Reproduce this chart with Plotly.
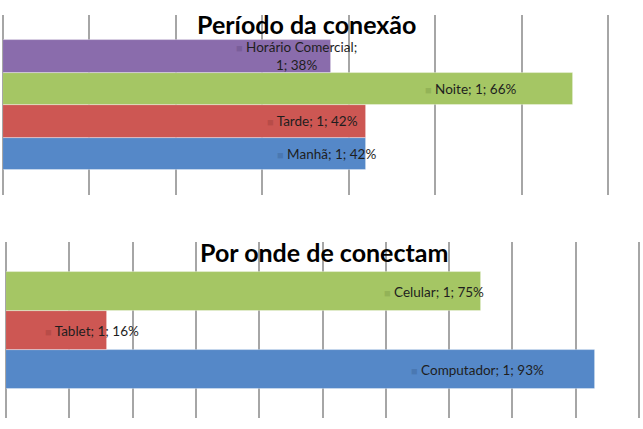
import plotly.graph_objects as go

# ---- data ----
periodo_cats = ["Manhã", "Tarde", "Noite", "Horário Comercial"]
periodo_vals = [0.42, 0.42, 0.66, 0.38]
disp_cats = ["Computador", "Tablet", "Celular"]
disp_vals = [0.93, 0.16, 0.75]
serie_label = "1"
titles = ["Período da conexão", "Por onde de conectam"]
periodo_max = 0.7
disp_max = 1.0

# ---- styles ----
bar_colors = ["#5588C8", "#CD5753", "#A5C664", "#8A6CAC"]
key_colors = ["#4A78B2", "#B84C48", "#93B357", "#7A5E9A"]
periodo_shift = [12, -6, -54, 28]
disp_shift = [-49, 34, 5]
FONT = "Lato"
W, H = 643, 429
EDGE = 1.004  # small extension so the last gridline is drawn

def px_to_paper_y(py):
    return 1 - py / H

fig = go.Figure()

fig.add_trace(go.Bar(
    x=periodo_vals, y=periodo_cats, orientation="h",
    marker=dict(color=bar_colors[:len(periodo_cats)],
                line=dict(color="rgba(255,255,255,0.45)", width=0.8)),
    xaxis="x", yaxis="y", hoverinfo="skip"))
fig.add_trace(go.Bar(
    x=disp_vals, y=disp_cats, orientation="h",
    marker=dict(color=bar_colors[:len(disp_cats)],
                line=dict(color="rgba(255,255,255,0.45)", width=0.8)),
    xaxis="x2", yaxis="y2", hoverinfo="skip"))

grid = dict(showgrid=True, gridcolor="#A6A6A6", gridwidth=1.6,
            zeroline=True, zerolinecolor="#A6A6A6", zerolinewidth=1.6,
            showticklabels=False, ticks="", dtick=0.1, tick0=0, fixedrange=True)

x1_left, x1_right = 3, 3 + 605 * EDGE
x2_left, x2_right = 6, 6 + 633 * EDGE

fig.update_layout(
    width=W, height=H,
    margin=dict(l=0, r=0, t=0, b=0),
    paper_bgcolor="white", plot_bgcolor="white",
    showlegend=False, bargap=0,
    xaxis=dict(domain=[x1_left / W, min(x1_right / W, 1)],
               range=[0, periodo_max * EDGE], anchor="y", **grid),
    yaxis=dict(domain=[px_to_paper_y(195), px_to_paper_y(15)], type="category",
               categoryorder="array", categoryarray=periodo_cats,
               range=[-0.5 - 25 / 32.5, len(periodo_cats) - 0.5 + 25 / 32.5],
               showticklabels=False, showgrid=False, zeroline=False, ticks="",
               anchor="x"),
    xaxis2=dict(domain=[x2_left / W, min(x2_right / W, 1)],
                range=[0, disp_max * EDGE], anchor="y2", **grid),
    yaxis2=dict(domain=[px_to_paper_y(418), px_to_paper_y(242)], type="category",
                categoryorder="array", categoryarray=disp_cats,
                range=[-0.5 - 29 / 39, len(disp_cats) - 0.5 + 30 / 39],
                showticklabels=False, showgrid=False, zeroline=False, ticks="",
                anchor="x2"),
)

def label_text(name, val, i):
    key = f'<span style="color:{key_colors[i]};font-size:11px">■</span> '
    if len(name) > 12:
        return f"{key}{name};<br>{serie_label}; {round(val * 100)}%"
    return f"{key}{name}; {serie_label}; {round(val * 100)}%"

anns = []
for i, (c, v) in enumerate(zip(periodo_cats, periodo_vals)):
    anns.append(dict(x=v, y=c, xref="x", yref="y", text=label_text(c, v, i),
                     showarrow=False, xanchor="right", yanchor="middle",
                     xshift=periodo_shift[i], align="center",
                     font=dict(family=FONT, size=13.5, color="#1E1E1E")))
for i, (c, v) in enumerate(zip(disp_cats, disp_vals)):
    anns.append(dict(x=v, y=c, xref="x2", yref="y2", text=label_text(c, v, i),
                     showarrow=False, xanchor="right", yanchor="middle",
                     xshift=disp_shift[i], align="center",
                     font=dict(family=FONT, size=13.5, color="#1E1E1E")))

anns.append(dict(x=0.5, y=px_to_paper_y(24), xref="x domain", yref="paper",
                 text=f"<b>{titles[0]}</b>", showarrow=False,
                 xanchor="center", yanchor="middle",
                 font=dict(family=FONT, size=25, color="black")))
anns.append(dict(x=0.5, y=px_to_paper_y(252), xref="x2 domain", yref="paper",
                 text=f"<b>{titles[1]}</b>", showarrow=False,
                 xanchor="center", yanchor="middle",
                 font=dict(family=FONT, size=25, color="black")))
fig.update_layout(annotations=anns)

fig.write_html("out.html")
